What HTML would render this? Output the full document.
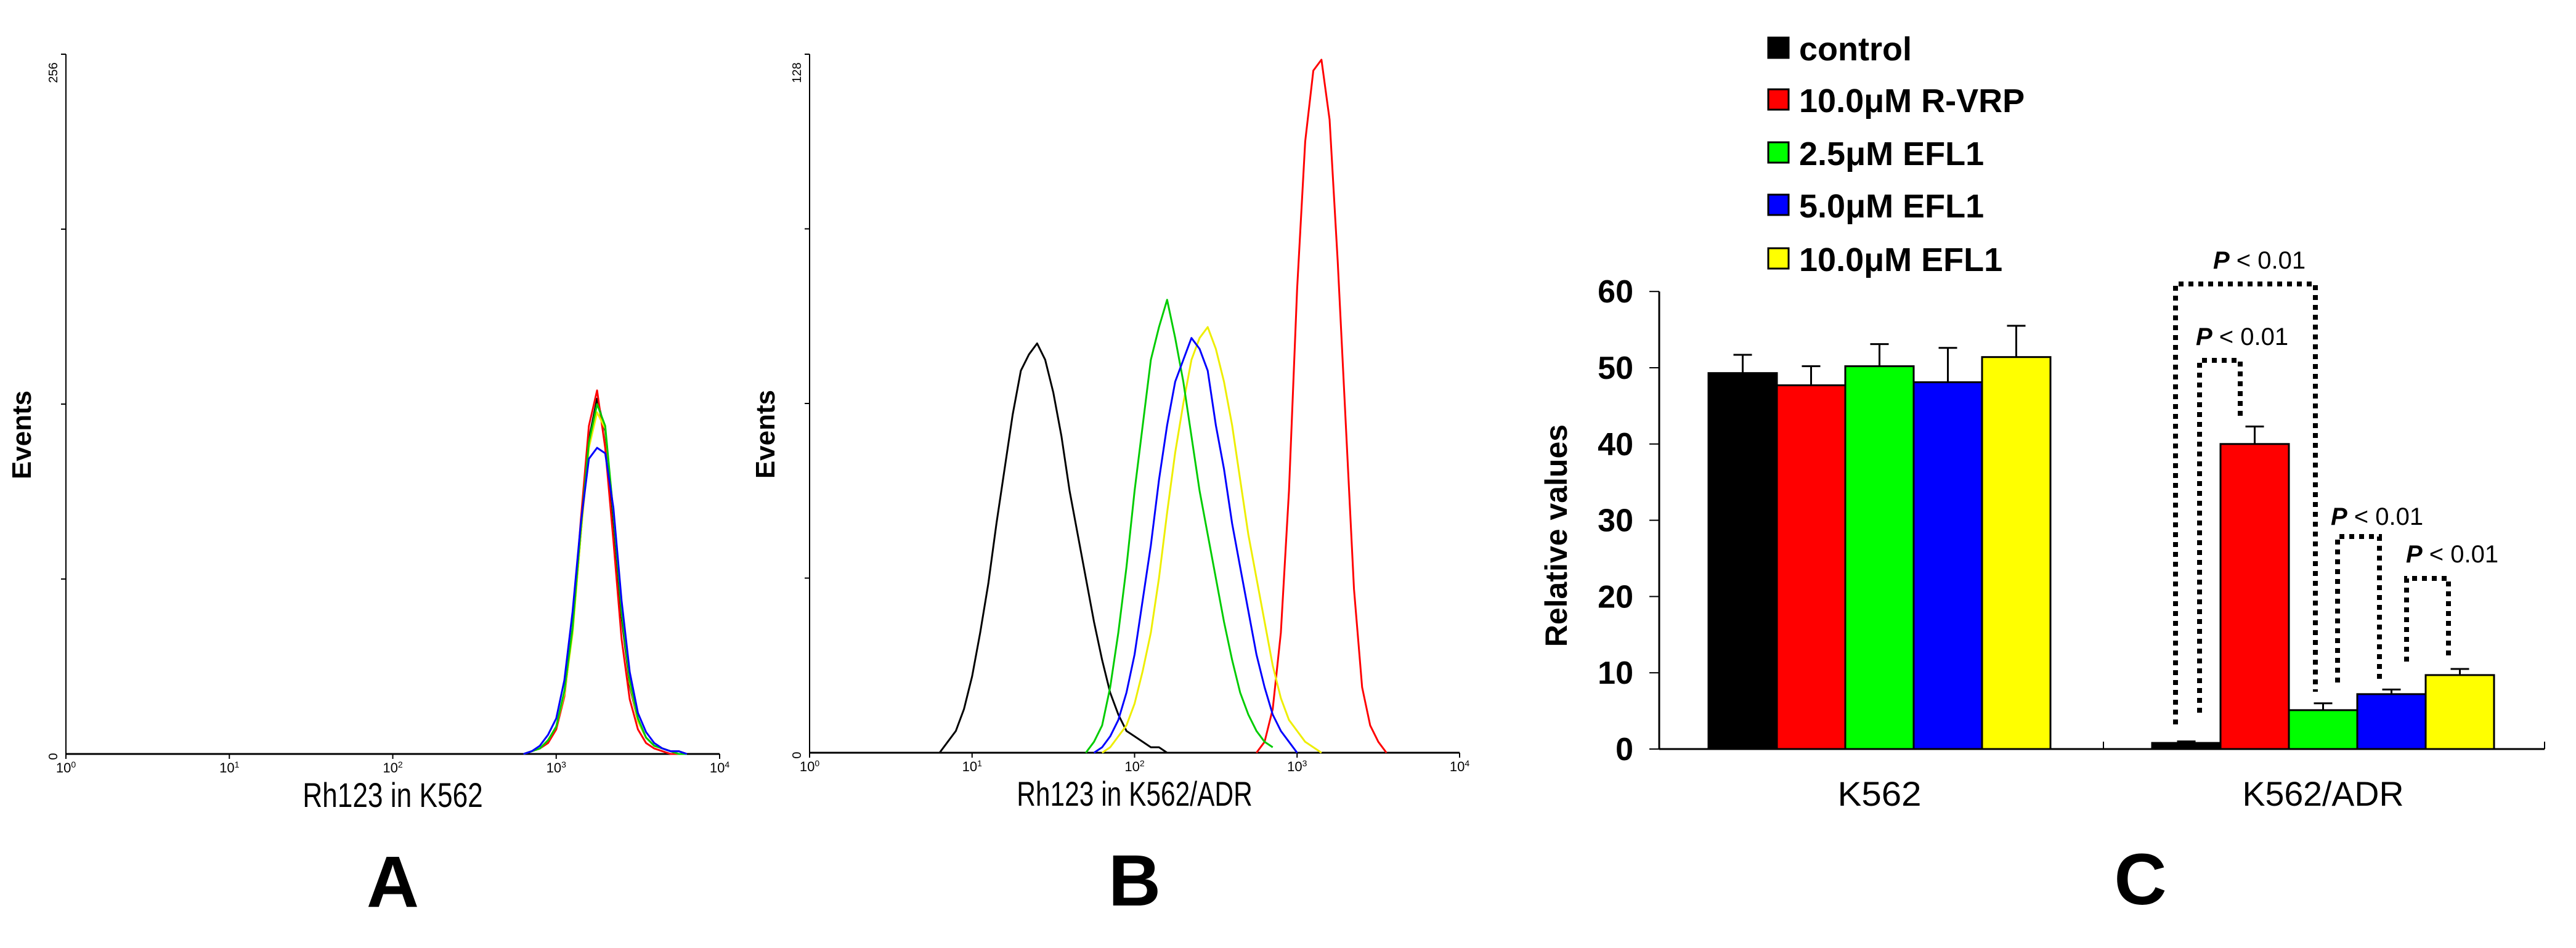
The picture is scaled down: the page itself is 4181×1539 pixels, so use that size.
<!DOCTYPE html>
<html><head><meta charset="utf-8"><style>
html,body{margin:0;padding:0;background:#fff;}
svg{display:block;}
text{font-family:"Liberation Sans",Arial,sans-serif;}
</style></head><body>
<svg id="fig" width="4181" height="1539" viewBox="0 0 4181 1539" xmlns="http://www.w3.org/2000/svg">
<rect width="4181" height="1539" fill="#fff"/>
<g id="pA"></g>
<g id="pB"></g>
<g id="pC"></g>
</svg>
<script>
// ---------- Histogram data (log10 fluorescence grid, counts) ----------
const aLogs = [2.80,2.85,2.90,2.95,3.00,3.05,3.10,3.15,3.20,3.25,3.30,3.35,3.40,3.45,3.50,3.55,3.60,3.65,3.70,3.75,3.80];
const aBlack = [0,1,2,5,10,22,45,80,115,130,118,85,50,25,12,6,3,2,1,1,0];
const aRed = [0,1,2,4,9,21,46,85,120,133,112,78,42,20,9,4,2,1,0,0,0];
const aGreen = [0,1,2,5,10,23,46,82,114,128,120,88,52,27,13,6,3,2,1,0,0];
const aBlue = [0,1,3,7,13,27,52,84,108,112,110,90,56,30,15,8,4,2,1,1,0];
const aYellow = [0,1,2,5,10,22,44,80,112,125,119,88,52,26,12,6,3,2,1,0,0];

const bBlackStart = 0.80;
const bBlack = [0,2,4,8,14,22,31,42,52,62,70,73,75,72,66,58,48,40,32,24,17,11,7,4,3,2,1,1,0];
const bGreenStart = 1.70;
const bGreen = [0,2,5,12,22,34,48,60,72,78,83,76,68,58,48,40,32,24,17,11,7,4,2,1];
const bBlueStart = 1.75;
const bBlue = [0,1,3,6,11,18,28,38,50,60,68,72,76,74,70,60,52,42,34,26,18,12,7,4,2,0];
const bYellowStart = 1.80;
const bYellow = [0,1,3,5,9,15,22,32,44,55,64,72,76,78,74,68,60,50,40,32,24,16,10,6,4,2,1,0];
const bRedStart = 2.75;
const bRed = [0,2,8,22,48,85,112,125,127,116,90,60,30,12,5,2,0];

// ---------- Bar chart data ----------
const groups = ["K562","K562/ADR"];
const seriesNames = ["control","10.0μM R-VRP","2.5μM EFL1","5.0μM EFL1","10.0μM EFL1"];
const k562Values = [49.3,47.7,50.2,48.1,51.4];
const k562Err = [2.4,2.5,2.9,4.5,4.1];
const adrValues = [0.8,40.0,5.1,7.2,9.7];
const adrErr = [0.2,2.3,0.9,0.6,0.8];
const yTicks = [0,10,20,30,40,50,60];

const NS="http://www.w3.org/2000/svg";
function mk(parent,tag,attrs,txt){const e=document.createElementNS(NS,tag);for(const k in attrs)e.setAttribute(k,attrs[k]);if(txt!==undefined)e.textContent=txt;parent.appendChild(e);return e;}

function histPanel(g,x0,x1,yTop,yBase,ymax,topLabel,xTitle,letter,seriesList){
  const xs=v=>x0+(x1-x0)*v/4;
  const ys=c=>yBase-(yBase-yTop)*c/ymax;
  let e=mk(g,'line',{x1:x0,y1:yTop,x2:x0,y2:yBase,stroke:'#000','stroke-width':2});
  
  e=mk(g,'line',{x1:x0,y1:yBase,x2:x1,y2:yBase,stroke:'#000','stroke-width':3});
  
  for(let i=1;i<=4;i++){const y=yBase-(yBase-yTop)*i/4;mk(g,'line',{x1:x0-8,y1:y,x2:x0,y2:y,stroke:'#000','stroke-width':2});}
  for(let d=0;d<=4;d++){
    const x=xs(d);
    mk(g,'line',{x1:x,y1:yBase,x2:x,y2:yBase+8,stroke:'#000','stroke-width':2});
    const t=mk(g,'text',{x:x,y:yBase+30,'font-size':22,'text-anchor':'middle',fill:'#000'});
    
    t.innerHTML='10<tspan dy="-8" font-size="14">'+d+'</tspan>';
  }
  let t=mk(g,'text',{transform:`translate(${x0-14},${yTop+30}) rotate(-90)`,'font-size':20,'text-anchor':'middle'},topLabel);
  
  t=mk(g,'text',{transform:`translate(${x0-14},${yBase+4}) rotate(-90)`,'font-size':20,'text-anchor':'middle'},'0');
  
  t=mk(g,'text',{transform:`translate(${x0-57},${(yTop+yBase)/2+50}) rotate(-90)`,'font-size':44,'font-weight':'bold','text-anchor':'middle'},'Events');
  
  t=mk(g,'text',{x:(x0+x1)/2,y:yBase+86,'font-size':56,'text-anchor':'middle',textLength:xTitle.length*22.5,lengthAdjust:'spacingAndGlyphs'},xTitle);
  
  t=mk(g,'text',{x:(x0+x1)/2,y:yBase+248,'font-size':118,'font-weight':'bold','text-anchor':'middle'},letter);
  
  seriesList.forEach(s=>{
    let pts=[];
    s.counts.forEach((c,i)=>{const lg=s.logs?s.logs[i]:s.start+i*0.05;pts.push(xs(lg).toFixed(1)+','+ys(c).toFixed(1));});
    const p=mk(g,'polyline',{points:pts.join(' '),fill:'none',stroke:s.color,'stroke-width':3,'stroke-linejoin':'round'});
    
  });
}
histPanel(document.getElementById('pA'),107,1168,88,1224,256,'256','Rh123 in K562','A',[
  {name:'histogram-black',color:'#000',logs:aLogs,counts:aBlack},
  {name:'histogram-red',color:'#f00',logs:aLogs,counts:aRed},
  {name:'histogram-yellow',color:'#ee0',logs:aLogs,counts:aYellow},
  {name:'histogram-green',color:'#0c0',logs:aLogs,counts:aGreen},
  {name:'histogram-blue',color:'#00f',logs:aLogs,counts:aBlue}]);
histPanel(document.getElementById('pB'),1314,2369,88,1222,128,'128','Rh123 in K562/ADR','B',[
  {name:'histogram-black',color:'#000',start:bBlackStart,counts:bBlack},
  {name:'histogram-red',color:'#f00',start:bRedStart,counts:bRed},
  {name:'histogram-yellow',color:'#ee0',start:bYellowStart,counts:bYellow},
  {name:'histogram-green',color:'#0c0',start:bGreenStart,counts:bGreen},
  {name:'histogram-blue',color:'#00f',start:bBlueStart,counts:bBlue}]);

// ---------- Panel C ----------
(function(){
  const g=document.getElementById('pC');
  const colors=['#000','#f00','#0f0','#00f','#ff0'];
  const ax=2693, axR=4130, y0=1216, pxPerUnit=12.38;
  const yv=v=>y0-v*pxPerUnit;
  const groupStart=[2773,3493], barW=111;
  let e=mk(g,'line',{x1:ax,y1:yv(60),x2:ax,y2:y0,stroke:'#000','stroke-width':3});
  
  e=mk(g,'line',{x1:ax,y1:y0,x2:axR,y2:y0,stroke:'#000','stroke-width':3});
  
  mk(g,'line',{x1:3414,y1:y0,x2:3414,y2:y0-12,stroke:'#000','stroke-width':2});
  mk(g,'line',{x1:axR,y1:y0,x2:axR,y2:y0-12,stroke:'#000','stroke-width':2});
  yTicks.forEach(v=>{
    mk(g,'line',{x1:ax-16,y1:yv(v),x2:ax,y2:yv(v),stroke:'#000','stroke-width':2});
    const t=mk(g,'text',{x:ax-42,y:yv(v)+18,'font-size':52,'font-weight':'bold','text-anchor':'end'},String(v));
    
  });
  let t=mk(g,'text',{transform:`translate(2543,${(yv(60)+y0)/2+25}) rotate(-90)`,'font-size':50,'font-weight':'bold','text-anchor':'middle'},'Relative values');
  
  [k562Values,adrValues].forEach((vals,gi)=>{
    const errs=gi===0?k562Err:adrErr;
    vals.forEach((v,i)=>{
      const x=groupStart[gi]+i*barW;
      const cx=x+barW/2;
      const l=mk(g,'line',{x1:cx,y1:yv(v),x2:cx,y2:yv(v+errs[i]),stroke:'#000','stroke-width':3});
      
      mk(g,'line',{x1:cx-15,y1:yv(v+errs[i]),x2:cx+15,y2:yv(v+errs[i]),stroke:'#000','stroke-width':3});
      const r=mk(g,'rect',{x:x,y:yv(v),width:barW,height:v*pxPerUnit,fill:colors[i],stroke:'#000','stroke-width':3});
      
    });
    const c=mk(g,'text',{x:groupStart[gi]+barW*2.5,y:1308,'font-size':56,'text-anchor':'middle',textLength:gi===0?136:262,lengthAdjust:'spacingAndGlyphs'},groups[gi]);
    
  });
  t=mk(g,'text',{x:3474,y:1468,'font-size':118,'font-weight':'bold','text-anchor':'middle'},'C');
  
  // legend
  const legY=[78,162,248,333,420];
  seriesNames.forEach((n,i)=>{
    const lg=mk(g,'g',{});
    
    mk(lg,'rect',{x:2870,y:legY[i]-17,width:33,height:33,fill:colors[i],stroke:'#000','stroke-width':3});
    mk(lg,'text',{x:2920,y:legY[i]+20,'font-size':54,'font-weight':'bold'},n);
  });
  // significance brackets
  const br=[[3531,1176,461,3758,1123,3667,422],[3570,1157,585,3636,676,3639,546],[3794,1108,871,3862,1108,3858,838],[3906,1074,939,3974,1069,3980,899]];
  br.forEach(b=>{
    const p=mk(g,'polyline',{points:`${b[0]},${b[1]} ${b[0]},${b[2]} ${b[3]},${b[2]} ${b[3]},${b[4]}`,fill:'none',stroke:'#000','stroke-width':8,'stroke-dasharray':'8 8'});
    
    const tx=mk(g,'text',{x:b[5],y:b[6]+14,'font-size':40,'text-anchor':'middle'});
    
    tx.innerHTML='<tspan font-style="italic" font-weight="bold">P</tspan> &lt; 0.01';
  });
})();
</script>
</body></html>
